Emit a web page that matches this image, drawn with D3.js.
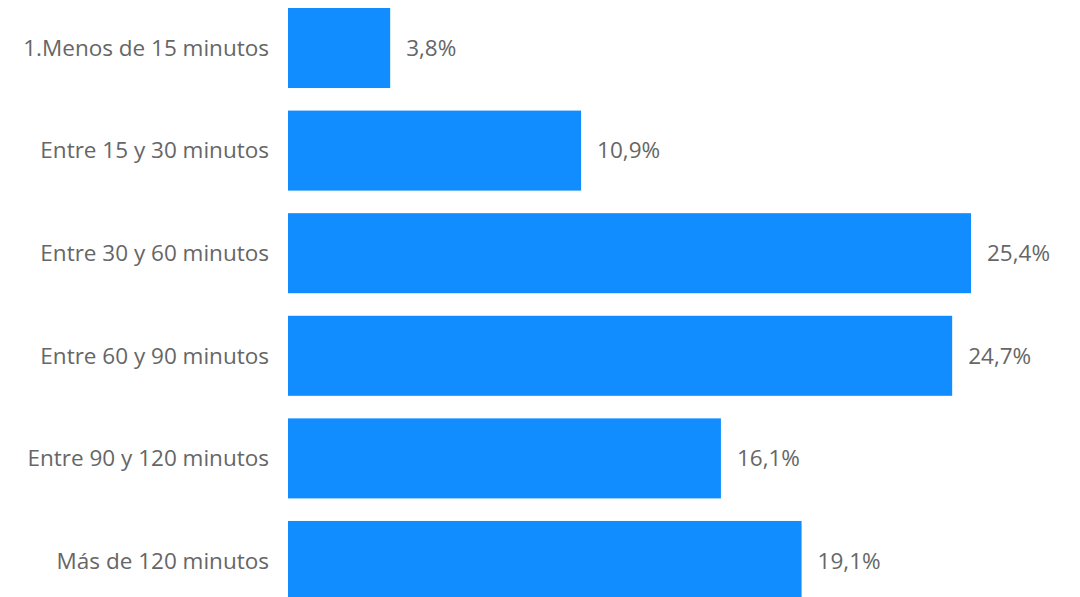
<!DOCTYPE html>
<html><head><meta charset="utf-8">
<script src="https://cdn.jsdelivr.net/npm/d3@7"></script>
<style>html,body{margin:0;padding:0;background:#fff;overflow:hidden}</style>
</head><body>
<svg id="c" width="1080" height="597"></svg>
<script>
const categories = ["1.Menos de 15 minutos","Entre 15 y 30 minutos","Entre 30 y 60 minutos","Entre 60 y 90 minutos","Entre 90 y 120 minutos","Más de 120 minutos"];
const values = [3.8, 10.9, 25.4, 24.7, 16.1, 19.1];
const valueLabels = ["3,8%","10,9%","25,4%","24,7%","16,1%","19,1%"];

const svg = d3.select("#c");
const x = d3.scaleLinear().domain([0, 25.4]).range([288, 971]);
const y = d3.scaleBand().domain(categories).range([8, 601]).paddingInner(0.22).paddingOuter(0);
const font = "'Open Sans', 'Noto Sans', sans-serif";

svg.selectAll("rect.bar").data(categories).join("rect")
  .attr("class","bar")
  .attr("x", x(0))
  .attr("y", d => y(d))
  .attr("width", (d,i) => x(values[i]) - x(0))
  .attr("height", y.bandwidth())
  .attr("fill", "#118DFF");

svg.selectAll("text.cat").data(categories).join("text")
  .attr("class","cat")
  .attr("x", x(0) - 19)
  .attr("y", d => y(d) + y.bandwidth()/2)
  .attr("dy", "0.35em")
  .attr("text-anchor", "end")
  .attr("font-family", font)
  .attr("font-size", 22.5)
  .attr("fill", "#666666")
  .text(d => d);

svg.selectAll("text.val").data(categories).join("text")
  .attr("class","val")
  .attr("x", (d,i) => x(values[i]) + 16)
  .attr("y", d => y(d) + y.bandwidth()/2)
  .attr("dy", "0.35em")
  .attr("font-family", font)
  .attr("font-size", 22.5)
  .attr("fill", "#666666")
  .text((d,i) => valueLabels[i]);
</script>
</body></html>
